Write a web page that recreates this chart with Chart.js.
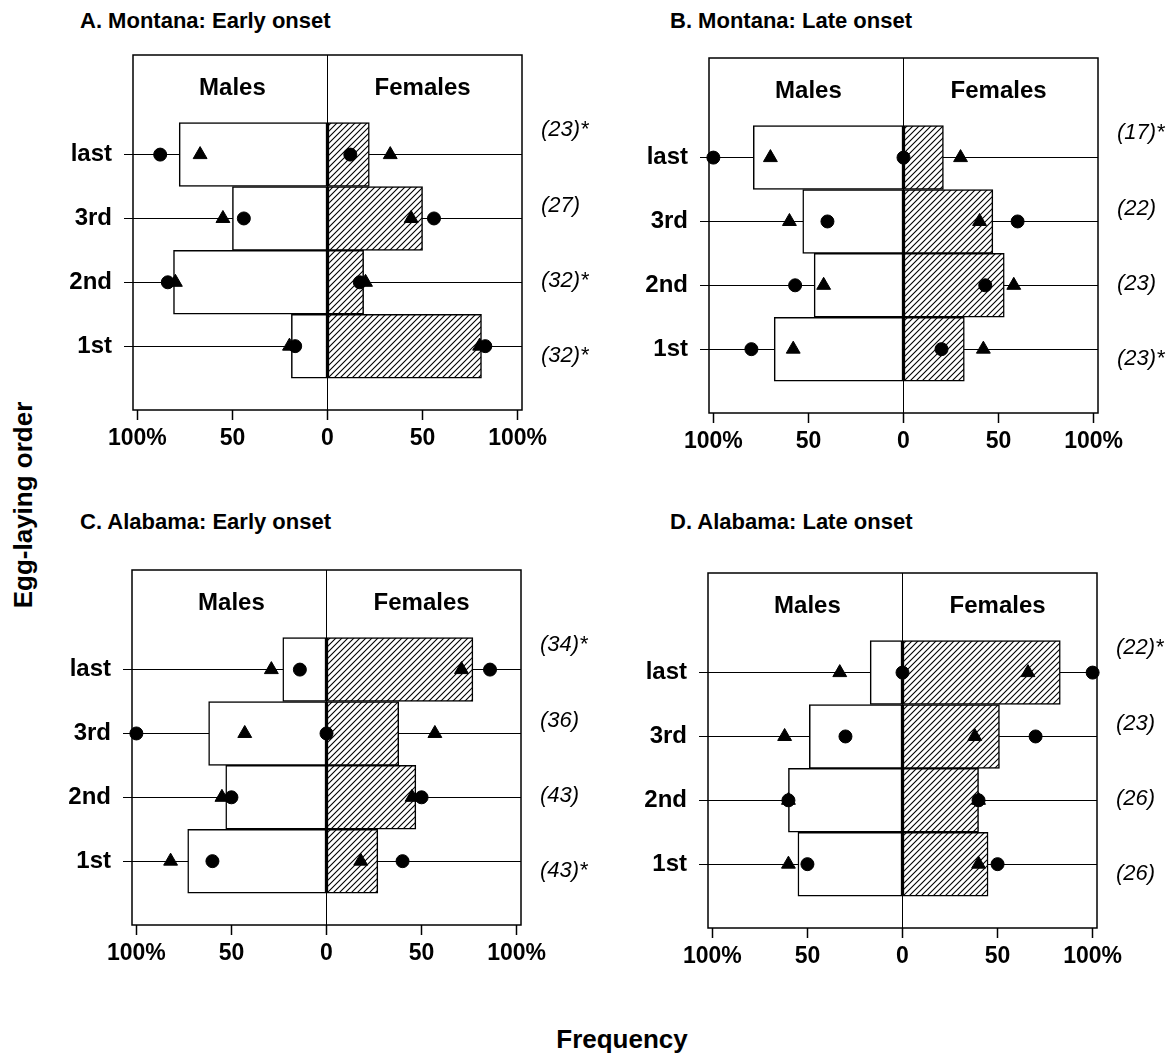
<!DOCTYPE html>
<html>
<head>
<meta charset="utf-8">
<script src="https://cdn.jsdelivr.net/npm/chart.js@4.4.1/dist/chart.umd.min.js"></script>
<style>
  body { margin: 0; background: #fff; }
  #wrap { position: relative; width: 1170px; height: 1059px; font-family: "Liberation Sans", Arial, sans-serif; color: #000; }
  #wrap canvas { position: absolute; }
  .ttl { position: absolute; font-weight: bold; font-size: 22px; line-height: 22px; white-space: nowrap; }
  .axt { position: absolute; font-weight: bold; font-size: 26px; line-height: 26px; white-space: nowrap; }
</style>
</head>
<body>
<div id="wrap">
  <div class="ttl" style="left:80px;top:10px">A. Montana: Early onset</div>
  <div class="ttl" style="left:670px;top:10px">B. Montana: Late onset</div>
  <div class="ttl" style="left:80px;top:511px">C. Alabama: Early onset</div>
  <div class="ttl" style="left:670px;top:511px">D. Alabama: Late onset</div>
  <div class="axt" style="left:23px;top:505px;transform:translate(-50%,-50%) rotate(-90deg)">Egg-laying order</div>
  <div class="axt" style="left:622px;top:1026px;transform:translateX(-50%)">Frequency</div>
  <canvas id="cA" width="585" height="430" style="left:9px;top:37px"></canvas>
  <canvas id="cB" width="585" height="430" style="left:585px;top:40px"></canvas>
  <canvas id="cC" width="585" height="430" style="left:8px;top:552px"></canvas>
  <canvas id="cD" width="585" height="430" style="left:584px;top:555px"></canvas>
</div>
<script>
// rows, bottom to top
const ORDER = ['1st', '2nd', '3rd', 'last'];
const ROW_POS = [1, 2, 3, 4];
const X_TICKS = [-100, -50, 0, 50, 100];
const X_TICK_LABELS = ['100%', '50', '0', '50', '100%'];
const SIDES = ['Males', 'Females'];

// A. Montana: Early onset (percent, order 1st..last)
const aMaleBar = [19, 81, 50, 78];
const aFemaleBar = [81, 19, 50, 22];
const aMaleCircle = [17, 84, 44, 88];
const aMaleTri = [20, 80, 55, 67];
const aFemaleCircle = [83, 17, 56, 12];
const aFemaleTri = [80, 20, 44, 33];
const aN = ['(32)*', '(32)*', '(27)', '(23)*'];

// B. Montana: Late onset
const bMaleBar = [68, 47, 53, 79];
const bFemaleBar = [32, 53, 47, 21];
const bMaleCircle = [80, 57, 40, 100];
const bMaleTri = [58, 42, 60, 70];
const bFemaleCircle = [20, 43, 60, 0];
const bFemaleTri = [42, 58, 40, 30];
const bN = ['(23)*', '(23)', '(22)', '(17)*'];

// C. Alabama: Early onset
const cMaleBar = [73, 53, 62, 23];
const cFemaleBar = [27, 47, 38, 77];
const cMaleCircle = [60, 50, 100, 14];
const cMaleTri = [82, 55, 43, 29];
const cFemaleCircle = [40, 50, 0, 86];
const cFemaleTri = [18, 45, 57, 71];
const cN = ['(43)*', '(43)', '(36)', '(34)*'];

// D. Alabama: Late onset
const dMaleBar = [55, 60, 49, 17];
const dFemaleBar = [45, 40, 51, 83];
const dMaleCircle = [50, 60, 30, 0];
const dMaleTri = [60, 60, 62, 33];
const dFemaleCircle = [50, 40, 70, 100];
const dFemaleTri = [40, 40, 38, 66];
const dN = ['(26)', '(26)', '(23)', '(22)*'];

const FONT = '"Liberation Sans", Arial, sans-serif';
Chart.defaults.font.family = FONT;
Chart.defaults.color = '#000';

function hatch() {
  const c = document.createElement('canvas');
  c.width = c.height = 6;
  const g = c.getContext('2d');
  g.fillStyle = '#fff'; g.fillRect(0, 0, 6, 6);
  g.strokeStyle = '#000'; g.lineWidth = 1.1;
  g.beginPath();
  g.moveTo(0, 6); g.lineTo(6, 0);
  g.moveTo(-1, 1); g.lineTo(1, -1);
  g.moveTo(5, 7); g.lineTo(7, 5);
  g.stroke();
  return g.createPattern(c, 'repeat');
}
const HATCH = hatch();

// box, side headers, sample sizes
const panelText = {
  id: 'panelText',
  afterDraw(chart, args, opts) {
    const { ctx, chartArea: a, scales: { x, y } } = chart;
    ctx.save();
    ctx.lineWidth = 1.5; ctx.strokeStyle = '#000';
    ctx.strokeRect(a.left, a.top, a.right - a.left, a.bottom - a.top);
    ctx.fillStyle = '#000';
    ctx.textBaseline = 'middle';
    ctx.textAlign = 'center';
    ctx.font = 'bold 24px ' + FONT;
    ctx.fillText(SIDES[0], x.getPixelForValue(-50), y.getPixelForValue(5.03));
    ctx.fillText(SIDES[1], x.getPixelForValue(50), y.getPixelForValue(5.03));
    ctx.textAlign = 'left';
    ctx.font = 'italic 22px ' + FONT;
    opts.n.forEach((t, i) => ctx.fillText(t, a.right + 19, y.getPixelForValue(0.84 + i * 1.18)));
    ctx.restore();
  }
};

const pts = (vals, sign) => vals.map((v, i) => ({ x: sign * v, y: ROW_POS[i] }));

function scatter(data, style, r) {
  return {
    type: 'scatter', data, order: 1, clip: false,
    pointStyle: style, pointRadius: r, pointBackgroundColor: '#000',
    pointBorderColor: '#000', pointBorderWidth: 1
  };
}

function panel(id, maleBar, femaleBar, mC, mT, fC, fT, n) {
  new Chart(document.getElementById(id), {
    type: 'bar',
    data: {
      datasets: [
        { label: SIDES[0], data: pts(maleBar, -1), backgroundColor: '#fff', borderColor: '#000',
          borderWidth: 1.5, borderSkipped: false, grouped: false, barPercentage: 1, categoryPercentage: 1, order: 2 },
        { label: SIDES[1], data: pts(femaleBar, 1), backgroundColor: HATCH, borderColor: '#000',
          borderWidth: 1.5, borderSkipped: false, grouped: false, barPercentage: 1, categoryPercentage: 1, order: 2 },
        scatter(pts(mC, -1), 'circle', 6.5),
        scatter(pts(fC, 1), 'circle', 6.5),
        scatter(pts(mT, -1), 'triangle', 8),
        scatter(pts(fT, 1), 'triangle', 8)
      ]
    },
    options: {
      indexAxis: 'y',
      responsive: false, animation: false, events: [],
      layout: { padding: { top: 18, right: 72, left: 0, bottom: 0 } },
      plugins: { legend: { display: false }, tooltip: { enabled: false }, panelText: { n } },
      scales: {
        x: {
          type: 'linear', min: -102.3, max: 102.3,
          afterBuildTicks: s => { s.ticks = X_TICKS.map(v => ({ value: v })); },
          afterFit: s => { s.height = 57; s.paddingLeft = 0; s.paddingRight = 0; },
          border: { display: false },
          grid: { color: c => (c.tick && c.tick.value === 0 ? '#000' : 'rgba(0,0,0,0)'), lineWidth: 1,
                  tickColor: '#000', tickWidth: 1.5, tickLength: 10 },
          ticks: { font: { size: 23, weight: 'bold' }, padding: 5, maxRotation: 0,
                   callback: v => X_TICK_LABELS[X_TICKS.indexOf(v)] }
        },
        y: {
          type: 'linear', min: 0, max: 5.56, offset: false,
          afterBuildTicks: s => { s.ticks = ROW_POS.map(v => ({ value: v })); },
          afterFit: s => { s.width = 124; s.paddingTop = 0; s.paddingBottom = 0; },
          border: { display: false },
          grid: { color: '#000', lineWidth: 1, offset: false, tickColor: '#000', tickLength: 9 },
          ticks: { font: { size: 24, weight: 'bold' }, padding: 12,
                   callback: v => ORDER[ROW_POS.indexOf(v)] }
        }
      }
    },
    plugins: [panelText]
  });
}

panel('cA', aMaleBar, aFemaleBar, aMaleCircle, aMaleTri, aFemaleCircle, aFemaleTri, aN);
panel('cB', bMaleBar, bFemaleBar, bMaleCircle, bMaleTri, bFemaleCircle, bFemaleTri, bN);
panel('cC', cMaleBar, cFemaleBar, cMaleCircle, cMaleTri, cFemaleCircle, cFemaleTri, cN);
panel('cD', dMaleBar, dFemaleBar, dMaleCircle, dMaleTri, dFemaleCircle, dFemaleTri, dN);
</script>
</body>
</html>
